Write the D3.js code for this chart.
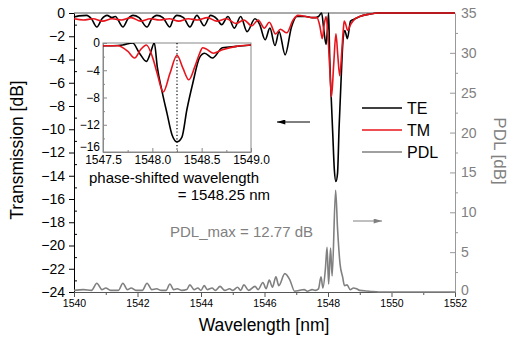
<!DOCTYPE html>
<html><head><meta charset="utf-8">
<script src="https://cdn.jsdelivr.net/npm/d3@7"></script>
<style>
body{margin:0;background:#fff;}
svg{font-family:"Liberation Sans",Arial,sans-serif;}
</style></head>
<body>
<svg id="c" width="511" height="341"></svg>
<script>
// ---------- data ----------
const teWl = [1540.00,1540.15,1540.40,1540.55,1540.72,1540.88,1541.04,1541.20,1541.30,1541.54,1541.70,1541.86,1542.05,1542.30,1542.45,1542.61,1542.80,1543.02,1543.13,1543.24,1543.45,1543.65,1543.87,1544.10,1544.30,1544.50,1544.65,1544.85,1545.05,1545.25,1545.45,1545.70,1545.85,1546.02,1546.17,1546.33,1546.46,1546.65,1546.85,1547.02,1547.30,1547.50,1547.60,1547.70,1547.80,1547.87,1547.94,1547.98,1548.02,1548.05,1548.10,1548.15,1548.20,1548.25,1548.30,1548.35,1548.41,1548.48,1548.53,1548.61,1548.71,1548.85,1549.00,1549.30,1549.60,1552.00];
const teDb = [-0.35,-0.25,-0.2,-0.5,-1.2,-0.5,-0.2,-0.4,-0.3,-1.2,-0.5,-0.2,-0.4,-1.2,-0.5,-0.2,-0.4,-1.2,-0.5,-0.2,-0.4,-1.2,-0.2,-1.1,-0.2,-0.5,-1.0,-0.3,-1.3,-0.3,-1.6,-0.5,-1.0,-2.3,-1.3,-2.8,-1.6,-3.6,-1.2,-0.3,-0.3,-0.4,-0.4,-0.3,0,-1.5,-2.7,-1.5,0,-3.5,-7.2,-10.4,-13.5,-14.5,-13.8,-9.8,-5.9,-2.1,-1.5,-2.2,-0.7,-0.5,-0.3,-0.1,0,0];
const tmWl = [1540.0,1540.3,1540.6,1540.9,1541.2,1541.5,1541.8,1542.1,1542.4,1542.7,1543.0,1543.3,1543.6,1543.9,1544.2,1544.5,1544.8,1545.1,1545.35,1545.6,1545.8,1546.0,1546.15,1546.35,1546.5,1546.7,1546.9,1547.05,1547.3,1547.5,1547.65,1547.75,1547.82,1547.88,1547.94,1548.0,1548.05,1548.11,1548.18,1548.25,1548.31,1548.37,1548.43,1548.48,1548.51,1548.55,1548.62,1548.71,1548.85,1549.0,1549.3,1549.6,1552.0];
const tmDb = [-0.5,-0.6,-0.5,-0.7,-0.5,-0.6,-0.4,-0.7,-0.5,-0.6,-0.5,-0.7,-0.5,-0.6,-0.4,-0.7,-0.5,-0.9,-0.6,-1.1,-0.6,-1.3,-0.8,-1.8,-1.4,-1.7,-0.6,-0.2,-0.3,-0.4,-0.4,-1.2,-2.2,-1.0,-0.3,-2.0,-4.5,-7.2,-4.4,-1.8,-3.7,-5.4,-3.5,-1.5,-0.7,-0.9,-1.5,-1.0,-0.5,-0.3,-0.1,0,0];
const pdlWl = [1540.0,1540.3,1540.55,1540.72,1540.88,1541.0,1541.15,1541.4,1541.54,1541.68,1541.8,1541.95,1542.15,1542.3,1542.45,1542.6,1542.75,1542.9,1543.02,1543.14,1543.25,1543.4,1543.55,1543.65,1543.78,1543.9,1544.0,1544.1,1544.2,1544.35,1544.45,1544.6,1544.75,1544.9,1545.0,1545.15,1545.25,1545.35,1545.5,1545.7,1545.8,1545.95,1546.05,1546.15,1546.25,1546.36,1546.45,1546.64,1546.8,1546.95,1547.1,1547.25,1547.35,1547.5,1547.6,1547.7,1547.78,1547.84,1547.92,1547.97,1548.02,1548.08,1548.13,1548.24,1548.3,1548.38,1548.46,1548.52,1548.6,1548.7,1548.8,1548.9,1549.0,1549.3,1549.6,1552.0];
const pdlDb = [0.2,0.3,0.2,1.1,0.3,0.5,0.2,0.2,1.1,0.3,0.5,0.2,0.2,1.1,0.3,0.4,0.2,0.2,1.0,0.3,0.4,0.2,0.3,0.9,0.3,0.5,0.2,0.8,0.3,0.5,0.2,0.7,0.2,0.4,0.2,0.6,0.2,0.9,0.2,0.7,0.3,1.2,0.4,1.5,0.6,1.9,0.8,2.3,1.5,0.1,0.2,0.3,0.1,0.3,0.2,0.4,1.9,0.5,3.0,5.6,1.0,5.5,2.0,12.77,8.0,3.5,1.9,0.8,0.9,0.3,0.5,0.4,0.2,0.1,0,0];
const xTicks = [1540,1542,1544,1546,1548,1550,1552];
const yLTicks = [0,-2,-4,-6,-8,-10,-12,-14,-16,-18,-20,-22,-24];
const yRTicks = [0,5,10,15,20,25,30,35];
const insetXTicks = [1547.5,1548.0,1548.5,1549.0];
const insetYTicks = [0,-4,-8,-12,-16];
const legendLabels = ["TE","TM","PDL"];
const phaseShift = 1548.25;

const C_TE="#000000", C_TM="#e8141c", C_PDL="#808080";
const svg = d3.select("#c");

const x = d3.scaleLinear([1540,1552],[74,455]);
const yL = d3.scaleLinear([-24,0],[292,13]);
const yR = d3.scaleLinear([0,35],[292,13]);

const zip=(a,b)=>a.map((v,i)=>[v,b[i]]);
const te = zip(teWl,teDb), tm = zip(tmWl,tmDb), pdl = zip(pdlWl,pdlDb);

// top frame line
svg.append("line").attr("x1",74).attr("x2",455).attr("y1",13).attr("y2",13).attr("stroke","#555").attr("stroke-width",1);

// axes
function styleAxis(g,color,fs){
  g.select(".domain").attr("stroke",color);
  g.selectAll(".tick line").attr("stroke",color);
  g.selectAll(".tick text").attr("font-size",fs).attr("font-family","Liberation Sans, Arial, sans-serif");
}
const gl = svg.append("g").attr("transform","translate(74,0)")
  .call(d3.axisLeft(yL).tickValues(yLTicks).tickSize(5).tickSizeOuter(0).tickPadding(4));
styleAxis(gl,"#000",14); gl.selectAll(".tick text").attr("fill","#000");
svg.append("g").attr("transform","translate(74,0)")
  .call(d3.axisLeft(yL).tickValues(d3.range(-23,0,2)).tickSize(-3).tickFormat(""))
  .call(g=>{g.select(".domain").remove();g.selectAll("line").attr("stroke","#000");});

const gb = svg.append("g").attr("transform","translate(0,292)")
  .call(d3.axisBottom(x).tickValues(xTicks).tickSize(5).tickSizeOuter(0).tickPadding(3).tickFormat(d3.format("d")));
styleAxis(gb,"#555",10.5); gb.selectAll(".tick text").attr("fill","#000");
svg.append("g").attr("transform","translate(0,292)")
  .call(d3.axisBottom(x).tickValues(d3.range(1541,1552,2)).tickSize(3).tickFormat(""))
  .call(g=>{g.select(".domain").remove();g.selectAll("line").attr("stroke","#555");});

const gr = svg.append("g").attr("transform","translate(455,0)")
  .call(d3.axisRight(yR).tickValues(yRTicks).tickSize(-5).tickSizeOuter(0).tickPadding(6));
styleAxis(gr,"#999",14); gr.selectAll(".tick text").attr("fill","#808080");
gr.selectAll(".tick text").filter(d=>d===0).attr("dy","0.2em");
svg.append("g").attr("transform","translate(455,0)")
  .call(d3.axisRight(yR).tickValues(d3.range(2.5,35,5)).tickSize(3).tickFormat(""))
  .call(g=>{g.select(".domain").remove();g.selectAll("line").attr("stroke","#999");});

// curves
const lineL = d3.line().x(d=>x(d[0])).y(d=>yL(d[1])).curve(d3.curveMonotoneX);
const lineR = d3.line().x(d=>x(d[0])).y(d=>yR(d[1])).curve(d3.curveMonotoneX);
svg.append("path").datum(pdl).attr("d",lineR).attr("fill","none").attr("stroke",C_PDL).attr("stroke-width",1.6);
svg.append("path").datum(te).attr("d",lineL).attr("fill","none").attr("stroke",C_TE).attr("stroke-width",1.6);
svg.append("path").datum(tm).attr("d",lineL).attr("fill","none").attr("stroke",C_TM).attr("stroke-width",1.6);

// axis titles
svg.append("text").attr("transform","translate(23,150) rotate(-90)").attr("text-anchor","middle")
  .attr("font-size",17.5).text("Transmission [dB]");
svg.append("text").attr("transform","translate(494,151) rotate(90)").attr("text-anchor","middle")
  .attr("font-size",17).attr("fill","#808080").text("PDL [dB]");
svg.append("text").attr("x",264).attr("y",331).attr("text-anchor","middle").attr("font-size",17.5).text("Wavelength [nm]");

// legend
const lgColors=[C_TE,C_TM,C_PDL], lgY=[108,130,152];
legendLabels.forEach((l,i)=>{
  svg.append("line").attr("x1",362).attr("x2",402).attr("y1",lgY[i]).attr("y2",lgY[i]).attr("stroke",lgColors[i]).attr("stroke-width",1.6);
  svg.append("text").attr("x",407).attr("y",lgY[i]+6).attr("font-size",16).text(l);
});

// arrows
const defs=svg.append("defs");
[["ahB","#000"],["ahG","#808080"]].forEach(([id,c])=>{
  defs.append("marker").attr("id",id).attr("viewBox","0 0 10 6").attr("refX",10).attr("refY",3)
   .attr("markerWidth",10).attr("markerHeight",5).attr("markerUnits","userSpaceOnUse").attr("orient","auto")
   .append("path").attr("d","M0,0L10,3L0,6Z").attr("fill",c);
});
svg.append("line").attr("x1",310).attr("x2",277).attr("y1",122).attr("y2",122).attr("stroke","#000").attr("stroke-width",1).attr("marker-end","url(#ahB)");
svg.append("line").attr("x1",353).attr("x2",382).attr("y1",221).attr("y2",221).attr("stroke","#808080").attr("stroke-width",1).attr("marker-end","url(#ahG)");

// annotations
svg.append("text").attr("x",89).attr("y",183).attr("font-size",15).text("phase-shifted wavelength");
svg.append("text").attr("x",270).attr("y",200).attr("text-anchor","end").attr("font-size",15).text("= "+phaseShift.toFixed(2)+" nm");
svg.append("text").attr("x",170).attr("y",237).attr("font-size",15).attr("fill","#808080").text("PDL_max = 12.77 dB");

// inset
const xi = d3.scaleLinear([1547.5,1549.0],[103,251]);
const yi = d3.scaleLinear([-16,0],[152,43]);
svg.append("rect").attr("x",103).attr("y",43).attr("width",148).attr("height",109).attr("fill","#fff").attr("stroke","#888");
defs.append("clipPath").attr("id","ic").append("rect").attr("x",103).attr("y",43).attr("width",148).attr("height",109);
const gi = svg.append("g");
const gix = gi.append("g").attr("transform","translate(0,152)")
  .call(d3.axisBottom(xi).tickValues(insetXTicks).tickSize(-4).tickSizeOuter(0).tickPadding(3).tickFormat(d3.format(".1f")));
styleAxis(gix,"#888",12); gix.selectAll(".tick text").attr("fill","#000");
gi.append("g").attr("transform","translate(0,152)")
  .call(d3.axisBottom(xi).tickValues([1547.75,1548.25,1548.75]).tickSize(-2).tickFormat(""))
  .call(g=>{g.select(".domain").remove();g.selectAll("line").attr("stroke","#888");});
const giy = gi.append("g").attr("transform","translate(103,0)")
  .call(d3.axisLeft(yi).tickValues(insetYTicks).tickSize(-4).tickSizeOuter(0).tickPadding(3));
styleAxis(giy,"#888",12); giy.selectAll(".tick text").attr("fill","#000");
giy.selectAll(".tick text").filter(d=>d===-16).attr("dy","-0.1em");
gi.append("g").attr("transform","translate(103,0)")
  .call(d3.axisLeft(yi).tickValues([-2,-6,-10,-14]).tickSize(-2).tickFormat(""))
  .call(g=>{g.select(".domain").remove();g.selectAll("line").attr("stroke","#888");});
const lineI = d3.line().x(d=>xi(d[0])).y(d=>yi(d[1])).curve(d3.curveMonotoneX);
const ic = svg.append("g").attr("clip-path","url(#ic)");
ic.append("line").attr("x1",xi(phaseShift)).attr("x2",xi(phaseShift)).attr("y1",43).attr("y2",152)
  .attr("stroke","#000").attr("stroke-width",1.2).attr("stroke-dasharray","1.2,2.2");
ic.append("path").datum(te).attr("d",lineI).attr("fill","none").attr("stroke",C_TE).attr("stroke-width",1.6);
ic.append("path").datum(tm).attr("d",lineI).attr("fill","none").attr("stroke",C_TM).attr("stroke-width",1.6);
</script>
</body></html>
